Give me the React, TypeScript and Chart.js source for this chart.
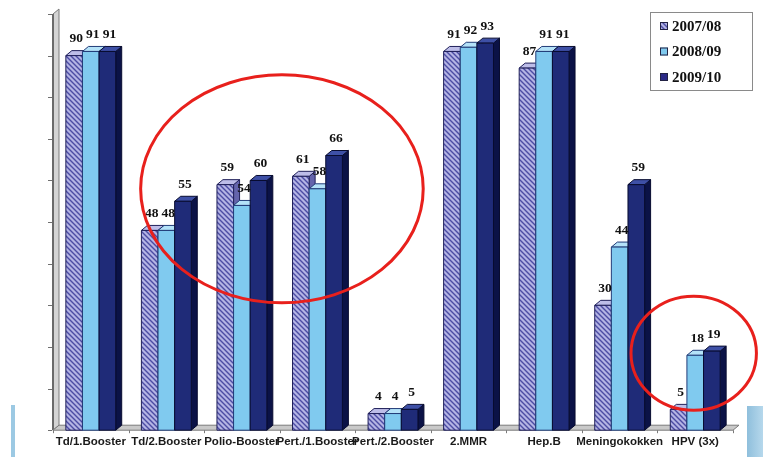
import React, { useEffect, useRef } from 'react';
import { Chart, registerables } from 'chart.js';

Chart.register(...registerables);

const categories = [
  'Td/1.Booster',
  'Td/2.Booster',
  'Polio-Booster',
  'Pert./1.Booster',
  'Pert./2.Booster',
  '2.MMR',
  'Hep.B',
  'Meningokokken',
  'HPV (3x)',
];
const seriesLabels = ['2007/08', '2008/09', '2009/10'];
const values0708 = [90, 48, 59, 61, 4, 91, 87, 30, 5];
const values0809 = [91, 48, 54, 58, 4, 92, 91, 44, 18];
const values0910 = [91, 55, 60, 66, 5, 93, 91, 59, 19];
const yTickValues = [0, 10, 20, 30, 40, 50, 60, 70, 80, 90, 100];
// highlight ellipses in data units (category index, value)
const highlightCx = [2.53, 7.98];
const highlightCy = [58, 18.5];
const highlightRx = [1.87, 0.83];
const highlightRy = [27.4, 13.7];

const DX = 6;
const DY = 5;

const faceStyles = [
  { top: '#bdbde8', side: '#6464ac', stroke: '#20205a' },
  { front: '#80caef', top: '#b4e2f8', side: '#4b9fd0', stroke: '#223c78' },
  { front: '#1f2b78', top: '#3e50a6', side: '#0b1246', stroke: '#080c30' },
];

function makeHatch(): CanvasPattern | string {
  const c = document.createElement('canvas');
  c.width = 5;
  c.height = 5;
  const g = c.getContext('2d');
  if (!g) return '#9a9ad6';
  g.fillStyle = '#b4b4e4';
  g.fillRect(0, 0, 5, 5);
  g.strokeStyle = '#4c4ca4';
  g.lineWidth = 1.4;
  g.beginPath();
  g.moveTo(-1, -1);
  g.lineTo(6, 6);
  g.moveTo(-1, 4);
  g.lineTo(1, 6);
  g.moveTo(4, -1);
  g.lineTo(6, 1);
  g.stroke();
  const p = g.createPattern(c, 'repeat');
  return p || '#9a9ad6';
}

function poly(ctx: CanvasRenderingContext2D, pts: number[][], fill: any, stroke: string) {
  ctx.beginPath();
  ctx.moveTo(pts[0][0], pts[0][1]);
  for (let i = 1; i < pts.length; i++) ctx.lineTo(pts[i][0], pts[i][1]);
  ctx.closePath();
  ctx.fillStyle = fill;
  ctx.fill();
  ctx.strokeStyle = stroke;
  ctx.lineWidth = 1;
  ctx.stroke();
}

const serifFont = "'Times New Roman', 'Liberation Serif', serif";

const threeDPlugin = {
  id: 'threeD',
  beforeDraw(chart: any) {
    const ctx = chart.ctx as CanvasRenderingContext2D;
    const w = chart.width;
    const h = chart.height;
    ctx.save();
    ctx.fillStyle = '#ffffff';
    ctx.fillRect(0, 0, w, h);
    // slide decorations
    ctx.fillStyle = '#9cc9e3';
    ctx.fillRect(11, h - 52, 4, 52);
    const grd = ctx.createLinearGradient(w - 16, 0, w, 0);
    grd.addColorStop(0, '#8fbfdc');
    grd.addColorStop(1, '#b6d8ec');
    ctx.fillStyle = grd;
    ctx.fillRect(w - 16, h - 51, 16, 51);
    ctx.restore();
  },
  beforeDatasetsDraw(chart: any) {
    const ctx = chart.ctx as CanvasRenderingContext2D;
    const x = chart.scales.x;
    const y = chart.scales.y;
    const L = chart.chartArea.left;
    const R = chart.chartArea.right;
    const base = y.getPixelForValue(0);
    const top = y.getPixelForValue(100);
    ctx.save();
    // wall
    poly(ctx, [[L, base], [L + DX, base - DY], [L + DX, top - DY], [L, top]], '#d4d4d4', '#7a7a7a');
    ctx.fillStyle = '#6a6a6a';
    ctx.fillRect(L - 1, top, 2, base - top);
    // y ticks
    ctx.strokeStyle = '#707070';
    ctx.lineWidth = 1;
    yTickValues.forEach((v) => {
      const py = Math.round(y.getPixelForValue(v)) + 0.5;
      ctx.beginPath();
      ctx.moveTo(L - 5, py);
      ctx.lineTo(L - 1, py);
      ctx.stroke();
    });
    // floor
    poly(ctx, [[L, base], [R, base], [R + DX, base - DY], [L + DX, base - DY]], '#c9c9c9', '#7a7a7a');
    // x ticks
    for (let i = 0; i <= categories.length; i++) {
      const px = Math.round(x.getPixelForValue(i - 0.5)) + 0.5;
      ctx.beginPath();
      ctx.moveTo(px, base);
      ctx.lineTo(px, base + 3);
      ctx.stroke();
    }
    // bars
    const hatch = makeHatch();
    const metas = chart.data.datasets.map((_: any, i: number) => chart.getDatasetMeta(i));
    for (let j = 0; j < categories.length; j++) {
      for (let i = 0; i < metas.length; i++) {
        const el = metas[i].data[j];
        if (!el) continue;
        const left = el.x - el.width / 2;
        const right = el.x + el.width / 2;
        const t = el.y;
        const b = el.base;
        const st = faceStyles[i];
        poly(ctx, [[right, b], [right + DX, b - DY], [right + DX, t - DY], [right, t]], st.side, st.stroke);
        poly(ctx, [[left, t], [left + DX, t - DY], [right + DX, t - DY], [right, t]], st.top, st.stroke);
        poly(ctx, [[left, t], [right, t], [right, b], [left, b]], i === 0 ? hatch : st.front, st.stroke);
      }
    }
    // value labels
    ctx.fillStyle = '#111111';
    ctx.font = `bold 13.5px ${serifFont}`;
    ctx.textAlign = 'center';
    ctx.textBaseline = 'middle';
    for (let i = 0; i < metas.length; i++) {
      const data = chart.data.datasets[i].data;
      metas[i].data.forEach((el: any, j: number) => {
        ctx.fillText(String(data[j]), el.x + 2, el.y - 17);
      });
    }
    ctx.restore();
    return false;
  },
  afterDraw(chart: any) {
    const ctx = chart.ctx as CanvasRenderingContext2D;
    const x = chart.scales.x;
    const y = chart.scales.y;
    const ca = chart.chartArea;
    ctx.save();
    // legend
    const bx = ca.right - 83;
    const by = ca.top - 2;
    ctx.fillStyle = '#ffffff';
    ctx.fillRect(bx, by, 102, 78);
    ctx.strokeStyle = '#8a8a8a';
    ctx.lineWidth = 1;
    ctx.strokeRect(bx + 0.5, by + 0.5, 102, 78);
    const hatch = makeHatch();
    const swatch = [hatch, '#80caef', '#2b2a86'];
    ctx.font = `bold 15px ${serifFont}`;
    ctx.textBaseline = 'middle';
    ctx.textAlign = 'left';
    seriesLabels.forEach((lab, i) => {
      const cy = by + 14 + i * 25.5;
      ctx.fillStyle = i === 0 ? '#2a2a60' : swatch[i];
      ctx.fillRect(bx + 10, cy - 4, 8, 8);
      if (i === 0) {
        ctx.fillStyle = hatch;
        ctx.fillRect(bx + 11, cy - 3, 6, 6);
      }
      ctx.strokeStyle = '#222244';
      ctx.strokeRect(bx + 10.5, cy - 3.5, 7, 7);
      ctx.fillStyle = '#111111';
      ctx.fillText(lab, bx + 22, cy + 1);
    });
    // highlight ellipses
    ctx.strokeStyle = '#e8201c';
    ctx.lineWidth = 3;
    for (let k = 0; k < highlightCx.length; k++) {
      const cx = x.getPixelForValue(highlightCx[k]);
      const rx = x.getPixelForValue(highlightCx[k] + highlightRx[k]) - cx;
      const cy = y.getPixelForValue(highlightCy[k]);
      const ry = y.getPixelForValue(highlightCy[k] - highlightRy[k]) - cy;
      ctx.beginPath();
      ctx.ellipse(cx, cy, rx, ry, 0, 0, Math.PI * 2);
      ctx.stroke();
    }
    ctx.restore();
  },
};

export default function App() {
  const canvasRef = useRef<HTMLCanvasElement | null>(null);
  useEffect(() => {
    if (!canvasRef.current) return;
    const chart = new Chart(canvasRef.current, {
      type: 'bar',
      data: {
        labels: categories,
        datasets: [
          { label: seriesLabels[0], data: values0708, backgroundColor: '#9a9ad6' },
          { label: seriesLabels[1], data: values0809, backgroundColor: '#80caef' },
          { label: seriesLabels[2], data: values0910, backgroundColor: '#1f2b78' },
        ],
      },
      options: {
        responsive: true,
        maintainAspectRatio: false,
        animation: false,
        layout: { padding: { left: 53, right: 30, top: 14, bottom: 3 } },
        plugins: { legend: { display: false }, tooltip: { enabled: false } },
        datasets: { bar: { categoryPercentage: 0.66, barPercentage: 1 } },
        scales: {
          x: {
            grid: { display: false, drawTicks: false },
            border: { display: false },
            ticks: {
              autoSkip: false,
              maxRotation: 0,
              minRotation: 0,
              padding: 5,
              color: '#1a1a1a',
              font: { family: "Arial, 'Liberation Sans', sans-serif", size: 11.5, weight: 'bold' },
            },
          },
          y: { display: false, min: 0, max: 100 },
        },
      },
      plugins: [threeDPlugin],
    } as any);
    return () => chart.destroy();
  }, []);
  return (
    <div style={{ position: 'fixed', left: 0, top: 0, width: 763, height: 457, background: '#fff' }}>
      <canvas ref={canvasRef} />
    </div>
  );
}
